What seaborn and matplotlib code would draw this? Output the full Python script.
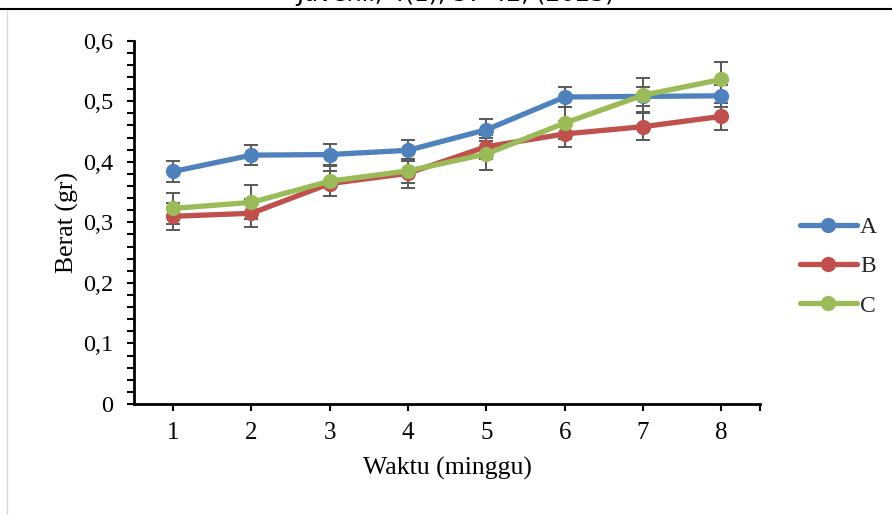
import matplotlib
matplotlib.use("Agg")
import matplotlib.pyplot as plt
from matplotlib.lines import Line2D
from matplotlib.ticker import MultipleLocator, FixedLocator
import seaborn as sns
import pandas as pd

weeks = [1, 2, 3, 4, 5, 6, 7, 8]
series = ["A", "B", "C"]
A_mean = [0.384, 0.411, 0.412, 0.419, 0.453, 0.507, 0.508, 0.509]
B_mean = [0.310, 0.315, 0.364, 0.381, 0.425, 0.446, 0.458, 0.475]
C_mean = [0.323, 0.333, 0.368, 0.385, 0.413, 0.464, 0.510, 0.536]
A_err = [0.018, 0.017, 0.018, 0.017, 0.018, 0.017, 0.016, 0.018]
B_err = [0.022, 0.023, 0.020, 0.024, 0.020, 0.022, 0.022, 0.022]
C_err = [0.026, 0.028, 0.025, 0.020, 0.027, 0.026, 0.028, 0.028]
y_ticks = [0, 0.1, 0.2, 0.3, 0.4, 0.5, 0.6]
y_ticklabels = ["0", "0,1", "0,2", "0,3", "0,4", "0,5", "0,6"]
colors = {"A": "#4F81BD", "B": "#C0504D", "C": "#9BBB59"}

means = {"A": A_mean, "B": B_mean, "C": C_mean}
errs = {"A": A_err, "B": B_err, "C": C_err}

df = pd.DataFrame({
    "Waktu": weeks * 3,
    "Berat": A_mean + B_mean + C_mean,
    "Perlakuan": sum([[s] * len(weeks) for s in series], []),
})

sns.set_theme(style="white")
plt.rcParams["font.family"] = ["Liberation Serif", "DejaVu Serif"]

fig = plt.figure(figsize=(8.92, 5.15), dpi=100)
ax = fig.add_axes([134 / 892, 1 - 404 / 515, (760.5 - 134) / 892, (404 - 40.7) / 515])

for s in series:
    ax.errorbar(weeks, means[s], yerr=errs[s], fmt="none", ecolor="#595959",
                elinewidth=1.4, capsize=5, capthick=1.4, zorder=1)

sns.lineplot(data=df, x="Waktu", y="Berat", hue="Perlakuan", palette=colors,
             marker="o", markersize=11, markeredgewidth=0, linewidth=3.8,
             ax=ax, legend=False, zorder=3)

ax.set_xlim(0.5, 8.5)
ax.set_ylim(0, 0.6)
ax.xaxis.set_major_locator(FixedLocator(weeks + [8.5]))
ax.set_xticklabels([str(w) for w in weeks] + [""])
ax.set_yticks(y_ticks)
ax.set_yticklabels(y_ticklabels)
ax.yaxis.set_minor_locator(MultipleLocator(0.02))

for side in ["top", "right"]:
    ax.spines[side].set_visible(False)
for side in ["left", "bottom"]:
    ax.spines[side].set_color("black")
    ax.spines[side].set_linewidth(2)

ax.tick_params(axis="both", which="both", direction="out", color="black",
               width=1.5, labelcolor="black")
ax.tick_params(axis="y", which="major", length=5, pad=10, left=True, labelsize=17.5)
ax.tick_params(axis="y", which="minor", length=5, left=True)
ax.tick_params(axis="x", which="major", length=5, pad=8, bottom=True, labelsize=18)

ax.set_xlabel("Waktu (minggu)", fontsize=18.5, color="black", labelpad=9)
ax.set_ylabel("Berat (gr)", fontsize=18.5, color="black", labelpad=3)

handles = [Line2D([0], [0], color=colors[s], lw=3.8, marker="o", markersize=11,
                  markeredgewidth=0) for s in series]
fig.legend(handles, series, loc="center left",
           bbox_to_anchor=(800 / 892, 1 - 266.5 / 515), frameon=False,
           fontsize=17, handlelength=2.4, handletextpad=0.15, labelspacing=0.75,
           borderpad=0, borderaxespad=0)

fig.add_artist(Line2D([0, 1], [1 - 9 / 515, 1 - 9 / 515], color="black", lw=1.5))
fig.add_artist(Line2D([7 / 892, 7 / 892], [0, 1 - 11 / 515], color="#d9d9d9", lw=1))
fig.text(455 / 892, 1 - 1.5 / 515, "Juvenil, 4(1), 37-42, (2023)", ha="center",
         va="baseline", fontsize=17, family=["DejaVu Sans"], color="black")

fig.savefig("out.png", dpi=100)
